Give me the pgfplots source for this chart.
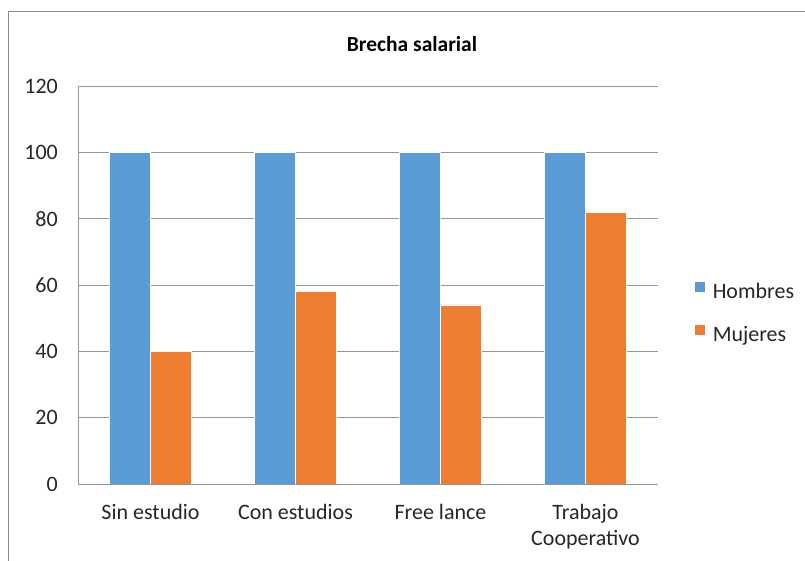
\documentclass[border=0pt]{standalone}
\usepackage{pgfplots}
\pgfplotsset{compat=1.18}
\usepackage{fontspec}
\setmainfont{Carlito}
\definecolor{cblue}{HTML}{5B9BD5}
\definecolor{corange}{HTML}{ED7D31}
\definecolor{gridgray}{RGB}{150,150,150}
\definecolor{framegray}{RGB}{140,140,140}
\begin{document}
\begin{tikzpicture}[x=1pt,y=1pt]
\path[use as bounding box] (0,0) rectangle (805,561);
\draw[framegray, line width=1pt] (8,0) -- (8,549) -- (805,549);
\node[font=\fontsize{21.5}{25}\selectfont\bfseries] at (412,517) {Brecha salarial};
\begin{axis}[
  at={(78pt,77pt)}, anchor=south west,
  scale only axis, width=580pt, height=398pt,
  ymin=0, ymax=120, ytick={0,20,...,120},
  xmin=-0.5, xmax=3.5, xtick={0,1,2,3},
  xticklabels={Sin estudio, Con estudios, Free lance, {Trabajo\\Cooperativo}},
  axis x line*=bottom, axis y line*=left,
  axis line style={gridgray, line width=0.8pt},
  x axis line style={-}, y axis line style={-},
  major tick length=0pt,
  ymajorgrids, grid style={gridgray, line width=0.8pt},
  /pgf/number format/assume math mode=true,
  tick label style={font=\fontsize{22}{26}\selectfont, black!85},
  yticklabel style={inner sep=0pt, anchor=east, xshift=-20pt},
  xticklabel style={inner sep=0pt, anchor=north, align=center, yshift=-20pt},
  ybar, bar width=41pt,
  legend style={at={(1.062,0.428)}, anchor=west, draw=none, fill=none, inner sep=0pt,
    font=\fontsize{22}{26}\selectfont, text=black!85,
    nodes={inner sep=0pt, text height=15pt, text depth=5pt},
    row sep=21pt},
  legend cell align=left,
  legend image code/.code={\fill[#1] (0pt,1pt) rectangle (11pt,12pt); \path (18pt,0pt);},
]
\addplot[fill=cblue, draw=white, line width=0.6pt, bar shift=-20.5pt] coordinates {(0,100) (1,100) (2,100) (3,100)};
\addplot[fill=corange, draw=white, line width=0.6pt, bar shift=20.5pt] coordinates {(0,40) (1,58) (2,54) (3,82)};
\legend{Hombres, Mujeres}
\end{axis}
\end{tikzpicture}
\end{document}
